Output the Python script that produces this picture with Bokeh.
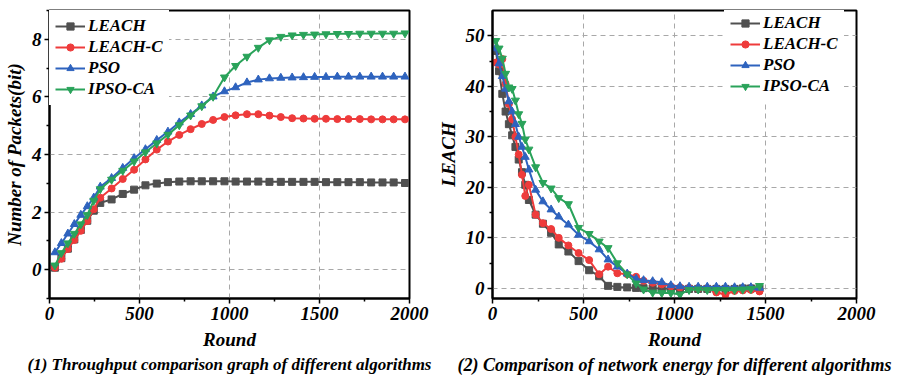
from bokeh.plotting import figure
from bokeh.models import FixedTicker, Legend, LegendItem, Title
from bokeh.layouts import row
from bokeh.embed import file_html
from bokeh.resources import INLINE

FONT = "Liberation Serif"

# ---------------- data: chart (1) throughput ----------------
round_l = [30, 66, 102, 138, 174, 210, 246, 282, 345, 407, 470, 533, 596, 658, 721, 784, 846, 909,
           972, 1034, 1097, 1160, 1222, 1285, 1348, 1411, 1473, 1536, 1599, 1661, 1724, 1787, 1850, 1912, 1975]
leach_l = [0.07, 0.4, 0.73, 1.05, 1.38, 1.7, 2.05, 2.32, 2.44, 2.63, 2.78, 2.93, 2.99, 3.04, 3.06, 3.07, 3.07, 3.07,
           3.07, 3.06, 3.06, 3.06, 3.05, 3.05, 3.05, 3.05, 3.05, 3.04, 3.04, 3.04, 3.04, 3.03, 3.03, 3.03, 3.01]
leachc_l = [0.07, 0.38, 0.72, 1.03, 1.35, 1.69, 2.1, 2.5, 2.82, 3.15, 3.47, 3.83, 4.17, 4.45, 4.68, 4.88, 5.06, 5.2,
            5.3, 5.36, 5.4, 5.4, 5.35, 5.3, 5.26, 5.25, 5.24, 5.24, 5.23, 5.23, 5.23, 5.22, 5.22, 5.22, 5.22]
pso_l = [0.6, 0.92, 1.25, 1.58, 1.9, 2.2, 2.5, 2.88, 3.18, 3.53, 3.87, 4.18, 4.5, 4.79, 5.11, 5.4, 5.7, 6.01,
         6.19, 6.33, 6.5, 6.6, 6.64, 6.66, 6.67, 6.68, 6.69, 6.69, 6.7, 6.7, 6.7, 6.7, 6.7, 6.7, 6.7]
ipso_l = [0.15, 0.58, 0.92, 1.25, 1.58, 1.9, 2.4, 2.8, 3.13, 3.44, 3.76, 4.08, 4.39, 4.69, 5.02, 5.36, 5.68, 6.01,
          6.68, 7.08, 7.4, 7.71, 7.97, 8.09, 8.14, 8.16, 8.17, 8.18, 8.19, 8.19, 8.2, 8.2, 8.2, 8.2, 8.21]

# ---------------- data: chart (2) network energy ----------------
round_r = [18, 36, 54, 72, 90, 108, 126, 144, 162, 180, 200, 237, 277, 322, 364, 417, 473, 531, 586,
           635, 686, 740, 789, 830, 880, 930, 980, 1030, 1080, 1130, 1180, 1230, 1280, 1330, 1375, 1420, 1467]
leach_r = [47, 43, 38.5, 35, 32.5, 30.3, 28, 25.5, 23, 20.5, 17.5, 14.6, 12.8, 11, 8.7, 7.3, 5.4, 3.6, 2.4,
           0.5, 0.3, 0.2, 0.1, 0.05, 0, 0, -0.1, -0.1, -0.1, -0.1, -0.1, -0.1, -0.1, -0.1, 0, 0, 0]
leachc_r = [44.7, 44.3, 45.4, 40.5, 36.5, 33.5, 30, 26.5, 22.5, 18.3, 20.5, 14.6, 12.9, 11.75, 10, 8.5, 7.0, 5.6, 2.8,
            4.3, 3.0, 2.8, 2.3, 1.5, 1.1, 0.8, 0.4, 0.2, 0.1, 0, 0, -0.8, -1.2, -0.5, -0.4, -0.3, -0.6]
pso_r = [47.5, 44.5, 42, 39.5, 37, 35, 32.5, 30, 28, 26, 23.5, 19.5, 17.2, 15.6, 14.2, 12.6, 10.6, 9.3, 7.7,
         5.7, 4.3, 2.9, 1.9, 1.6, 1.4, 1.2, 0.6, 0.4, 0.3, 0.3, 0.3, 0.3, 0.3, 0.2, 0.2, 0.2, 0.1]
ipso_r = [49, 47.5, 45.5, 42.5, 39.8, 39.5, 37.2, 34.5, 32.6, 29.5, 27.5, 24, 20.9, 19.8, 17.9, 16.7, 12, 10.8, 9.3,
          8.0, 5.0, 2.8, 1.0, -0.2, -0.8, -0.9, -0.9, -1.2, -0.3, -0.2, -0.3, -0.3, -0.3, -0.3, -0.2, -0.1, 0.5]

names = ["LEACH", "LEACH-C", "PSO", "IPSO-CA"]
colors = ["#505050", "#ee3b3b", "#2e63be", "#2aa35a"]
markers = ["square", "circle", "triangle", "inverted_triangle"]
msizes = [7, 7, 8, 8]

x_major = [0, 500, 1000, 1500, 2000]
x_minor = [250, 750, 1250, 1750]
x_grid = [500, 1000, 1500]
y_major_l = [0, 2, 4, 6, 8]
y_minor_l = [-1, 1, 3, 5, 7, 9]
y_major_r = [0, 10, 20, 30, 40, 50]
y_minor_r = [5, 15, 25, 35, 45]


def make(width, height, xr, yr, ylabel, ymaj, ymin, xs, series, borders, legend_loc, caption, cap_size):
    p = figure(width=width, height=height, x_range=xr, y_range=yr, output_backend="svg",
               toolbar_location=None, min_border_left=borders[0], min_border_right=borders[1],
               min_border_top=borders[2], min_border_bottom=borders[3])
    p.background_fill_color = "white"
    p.border_fill_color = "white"
    p.outline_line_color = "black"
    p.outline_line_width = 2

    for ax in (p.xaxis[0], p.yaxis[0]):
        ax.axis_line_width = 2
        ax.axis_line_color = "black"
        ax.major_tick_in = 0
        ax.major_tick_out = 5
        ax.minor_tick_in = 0
        ax.minor_tick_out = 3
        ax.major_tick_line_width = 1.5
        ax.minor_tick_line_width = 1.5
        ax.major_label_text_font = FONT
        ax.major_label_text_font_style = "bold italic"
        ax.major_label_text_font_size = "19px"
        ax.major_label_text_color = "black"
        ax.axis_label_text_font = FONT
        ax.axis_label_text_font_style = "bold italic"
        ax.axis_label_text_font_size = "19px"
        ax.axis_label_text_color = "black"
        ax.major_label_standoff = 3
    p.xaxis.ticker = FixedTicker(ticks=x_major, minor_ticks=x_minor)
    p.yaxis.ticker = FixedTicker(ticks=ymaj, minor_ticks=ymin)
    p.xaxis.axis_label = "Round"
    p.xaxis.axis_label_standoff = 6
    p.yaxis.axis_label = ylabel
    p.yaxis.axis_label_standoff = 4

    p.xgrid.ticker = FixedTicker(ticks=x_grid)
    p.ygrid.ticker = FixedTicker(ticks=ymaj)
    for g in (p.xgrid[0], p.ygrid[0]):
        g.grid_line_color = "#a8a8a8"
        g.grid_line_dash = "5 4"
        g.grid_line_width = 1

    items = []
    for name, ys, c, m, s in zip(names, series, colors, markers, msizes):
        ln = p.line(xs, ys, line_color=c, line_width=2)
        sc = p.scatter(xs, ys, marker=m, size=s, fill_color=c, line_color=c)
        items.append(LegendItem(label=name, renderers=[ln, sc]))
    leg = Legend(items=items, location=legend_loc)
    leg.label_text_font = FONT
    leg.label_text_font_style = "bold italic"
    leg.label_text_font_size = "17px"
    leg.label_text_color = "black"
    leg.glyph_width = 30
    leg.glyph_height = 18
    leg.spacing = 1
    leg.padding = 6
    leg.margin = 0
    leg.label_standoff = 3
    leg.background_fill_color = "white"
    leg.background_fill_alpha = 1
    leg.border_line_alpha = 0
    p.add_layout(leg)

    cap = Title(text=caption, align="center", text_font=FONT, text_font_style="bold italic",
                text_font_size=cap_size, text_color="black", standoff=0, offset=0)
    p.add_layout(cap, "below")
    return p


p1 = make(434, 377, (0, 2000), (-1, 9), "Number of Packets(bit)", y_major_l, y_minor_l, round_l,
          [leach_l, leachc_l, pso_l, ipso_l], (49, 25, 7, 79), "top_left",
          "(1) Throughput comparison graph of different algorithms", "17px")
p2 = make(464, 377, (0, 2000), (-2, 55), "LEACH", y_major_r, y_minor_r, round_r,
          [leach_r, leachc_r, pso_r, ipso_r], (55, 42, 10, 78), (232, 196),
          "(2) Comparison of network energy for different algorithms", "18px")

layout = row(p1, p2)
open("out.html", "w").write(file_html(layout, INLINE))
